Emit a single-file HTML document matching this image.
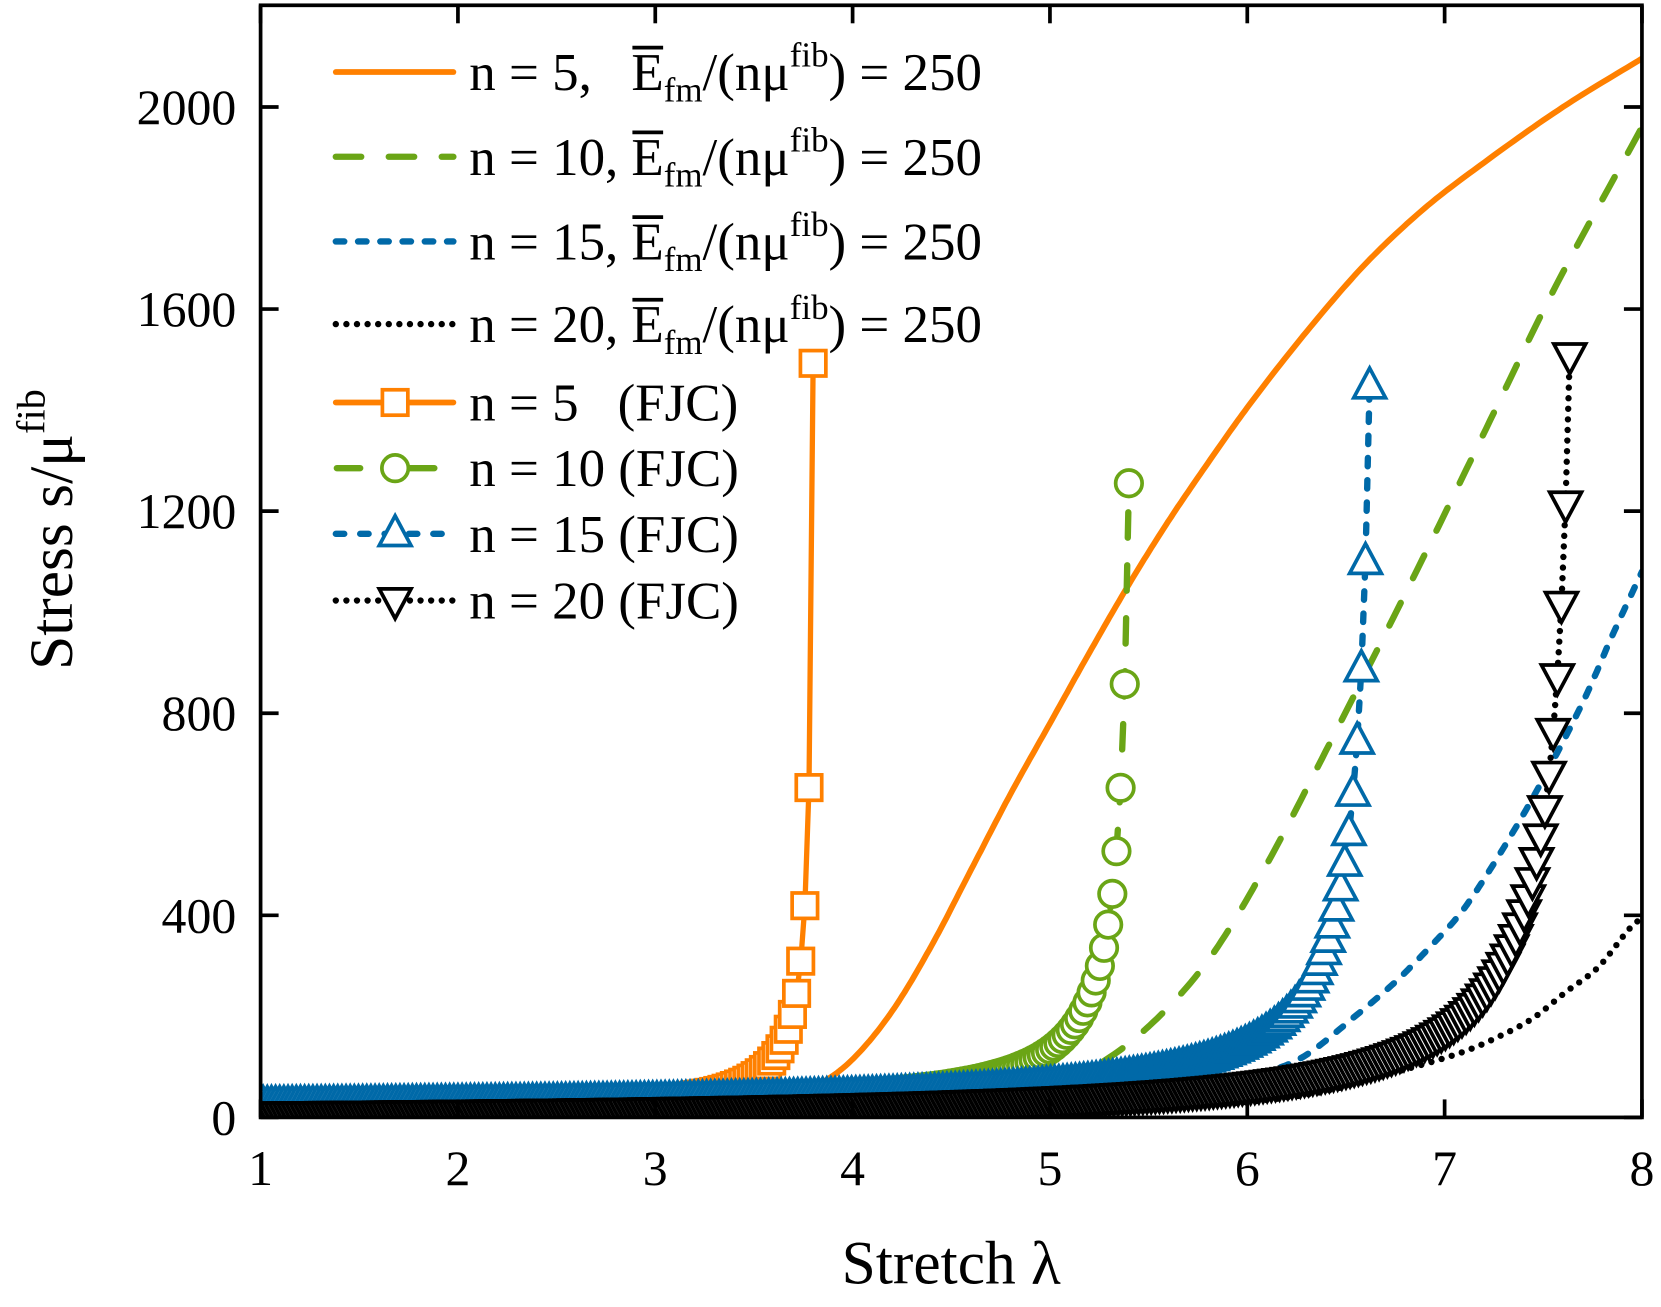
<!DOCTYPE html>
<html><head><meta charset="utf-8"><style>
html,body{margin:0;padding:0;background:#fff;}
svg{display:block;}
text{font-family:"Liberation Serif",serif;fill:#000;}
</style></head><body>
<svg id="s" width="1661" height="1307" viewBox="0 0 1568 1234" preserveAspectRatio="none" xmlns="http://www.w3.org/2000/svg">
<defs><clipPath id="cp"><rect x="246" y="5" width="1304" height="1050"/></clipPath></defs>
<g id="plot" clip-path="url(#cp)"></g>
<g id="axes" fill="none" stroke="#000" stroke-width="3.5"></g>
<g id="labels" font-size="47"></g>
<text x="898" y="1212" font-size="58" text-anchor="middle">Stretch λ</text>
<text transform="translate(68,500) rotate(-90)" font-size="58" text-anchor="middle">Stress s/μ<tspan font-size="38" dy="-26">fib</tspan></text>
<g id="legend"></g>
</svg>
<script>
const NS="http://www.w3.org/2000/svg";
const X=l=>246+(l-1)*186.29, Y=s=>1055-s*0.477;
function el(p,t,a){const e=document.createElementNS(NS,t);for(const k in a)e.setAttribute(k,a[k]);p.appendChild(e);return e;}
const plot=document.getElementById('plot'),axes=document.getElementById('axes'),labels=document.getElementById('labels'),leg=document.getElementById('legend');
const OR="#ff8000",GR="#6aa516",BL="#0069a8",BK="#000";
const styles={o:{stroke:OR,"stroke-width":5.5},g:{stroke:GR,"stroke-width":6,"stroke-dasharray":"24 26","stroke-linecap":"round"},
 b:{stroke:BL,"stroke-width":6,"stroke-dasharray":"8 13","stroke-linecap":"round"},k:{stroke:BK,"stroke-width":6,"stroke-dasharray":"0 10","stroke-linecap":"round"}};
// monotone cubic (Fritsch-Carlson) in data space
function mono(pts){
 const n=pts.length,xs=pts.map(p=>p[0]),ys=pts.map(p=>p[1]),d=[],m=[];
 for(let i=0;i<n-1;i++)d.push((ys[i+1]-ys[i])/(xs[i+1]-xs[i]));
 m[0]=d[0];m[n-1]=d[n-2];
 for(let i=1;i<n-1;i++)m[i]=(d[i-1]*d[i]<=0)?0:(d[i-1]+d[i])/2;
 for(let i=0;i<n-1;i++){if(d[i]==0){m[i]=m[i+1]=0;continue;}const a=m[i]/d[i],b=m[i+1]/d[i],h=a*a+b*b;if(h>9){const t=3/Math.sqrt(h);m[i]=t*a*d[i];m[i+1]=t*b*d[i];}}
 let s="M"+X(xs[0]).toFixed(1)+","+Y(ys[0]).toFixed(1);
 for(let i=0;i<n-1;i++){const h=xs[i+1]-xs[i];
  for(let j=1;j<=16;j++){const t=j/16,t2=t*t,t3=t2*t;
   const y=(2*t3-3*t2+1)*ys[i]+(t3-2*t2+t)*h*m[i]+(-2*t3+3*t2)*ys[i+1]+(t3-t2)*h*m[i+1];
   s+=" L"+X(xs[i]+t*h).toFixed(1)+","+Y(y).toFixed(1);}}
 return s;}
function line(pts,st){const a=Object.assign({d:mono(pts),fill:"none","stroke-linejoin":"round"},st);el(plot,"path",a);}
line([[1,25],[2.5,30],[3.3,36],[3.7,45],[3.85,70],[4.0,115],[4.2,210],[4.4,340],[4.6,490],[4.8,640],[5.0,780],[5.2,920],[5.4,1055],[5.6,1180],[5.8,1295],[6.0,1405],[6.3,1555],[6.6,1690],[6.9,1800],[7.2,1890],[7.6,2000],[8,2096]],styles.o);
line([[1,15],[4.5,35],[5.0,62],[5.15,84],[5.46,166],[5.8,310],[6.08,488],[6.42,742],[6.89,1107],[7.21,1363],[7.544,1631],[8,1960]],styles.g);
line([[1,15],[5.5,45],[6.0,80],[6.27,117],[6.555,203],[6.755,270],[6.92,335],[7.09,409],[7.26,509],[7.48,656],[7.72,838],[7.85,954],[8,1080]],styles.b);
line([[1,5],[5,15],[6.3,45],[6.8,95],[7.11,132],[7.28,161],[7.45,197],[7.61,247],[7.78,298],[7.95,379],[8,395]],styles.k);
function marker(g,type,x,y,col){
 const a={fill:"#fff",stroke:col,"stroke-width":3.5,"stroke-linejoin":"miter"};
 if(type=="sq")el(g,"rect",Object.assign({x:x-12,y:y-12,width:24,height:24},a));
 else if(type=="ci")el(g,"circle",Object.assign({cx:x,cy:y,r:12.5},a));
 else if(type=="up")el(g,"polygon",Object.assign({points:`${x},${y-17} ${x-15},${y+11} ${x+15},${y+11}`},a));
 else el(g,"polygon",Object.assign({points:`${x},${y+17} ${x-15},${y-11} ${x+15},${y-11}`},a));}
function fjc(K,lm,base,top,st,type,col){
 const ls=[];for(let l=top;l>=1;l-=0.021)ls.unshift(l);
 const pts=ls.map(l=>[X(l),Y(base+K/(lm-l))]);
 el(plot,"path",Object.assign({d:"M"+pts.map(p=>p[0].toFixed(1)+","+p[1].toFixed(1)).join(" L"),fill:"none"},st));
 for(const p of pts)marker(plot,type,p[0],p[1],col);}
fjc(24.1,3.8162,5,3.80,{stroke:OR,"stroke-width":5},"sq",OR);
fjc(56,5.4449,8,5.40,styles.g,"ci",GR);
fjc(95,6.686,8,6.62,styles.b,"up",BL);
fjc(134,7.722,-15,7.634,styles.k,"dn",BK);
el(axes,"rect",{x:246,y:5,width:1304,height:1050});
for(let l=1;l<=8;l++){const x=X(l);el(axes,"line",{x1:x,y1:1055,x2:x,y2:1038});el(axes,"line",{x1:x,y1:5,x2:x,y2:22});
 const t=el(labels,"text",{x:x,y:1119,"text-anchor":"middle"});t.textContent=l;}
for(let s=0;s<=2000;s+=400){const y=Y(s);el(axes,"line",{x1:246,y1:y,x2:263,y2:y});el(axes,"line",{x1:1550,y1:y,x2:1533,y2:y});
 const t=el(labels,"text",{x:223,y:y+16,"text-anchor":"end"});t.textContent=s;}
const rows=[68,148,228,306];const names=["5,","10,","15,","20,"];const st=[styles.o,styles.g,styles.b,styles.k];
rows.forEach((y,i)=>{el(leg,"line",Object.assign({x1:317,y1:y,x2:428,y2:y},st[i],{"stroke-linecap":"round"}));
 const b=y+17;
 let t=el(leg,"text",{x:443,y:b,"font-size":50});t.textContent="n = "+names[i];
 t=el(leg,"text",{x:596,y:b,"font-size":50});
 t.innerHTML='E<tspan font-size="33" dy="11">fm</tspan><tspan dy="-11">/(nμ</tspan><tspan font-size="33" dy="-22">fib</tspan><tspan dy="22">) = 250</tspan>';
 el(leg,"line",{x1:597,y1:b-40,x2:626,y2:b-40,stroke:"#000","stroke-width":3.5});});
const frow=[380,442,504,567],ft=["sq","ci","up","dn"],fc=[OR,GR,BL,BK];
const fst=[{stroke:OR,"stroke-width":5.5,"stroke-linecap":"round"},{stroke:GR,"stroke-width":6,"stroke-linecap":"round"},
 {stroke:BL,"stroke-width":6,"stroke-dasharray":"8 15","stroke-linecap":"round"},styles.k];
frow.forEach((y,i)=>{
 if(i==1){el(leg,"line",Object.assign({x1:318,y1:y,x2:340,y2:y},fst[i]));el(leg,"line",Object.assign({x1:385,y1:y,x2:410,y2:y},fst[i]));}
 else el(leg,"line",Object.assign({x1:317,y1:y,x2:428,y2:y},fst[i]));
 marker(leg,ft[i],373,y,fc[i]);
 const b=y+17;let t=el(leg,"text",{x:443,y:b,"font-size":50});
 if(i==0){t.textContent="n = 5";t=el(leg,"text",{x:583,y:b,"font-size":50});t.textContent="(FJC)";}
 else t.textContent="n = "+["","10","15","20"][i]+" (FJC)";});
</script>
</body></html>
